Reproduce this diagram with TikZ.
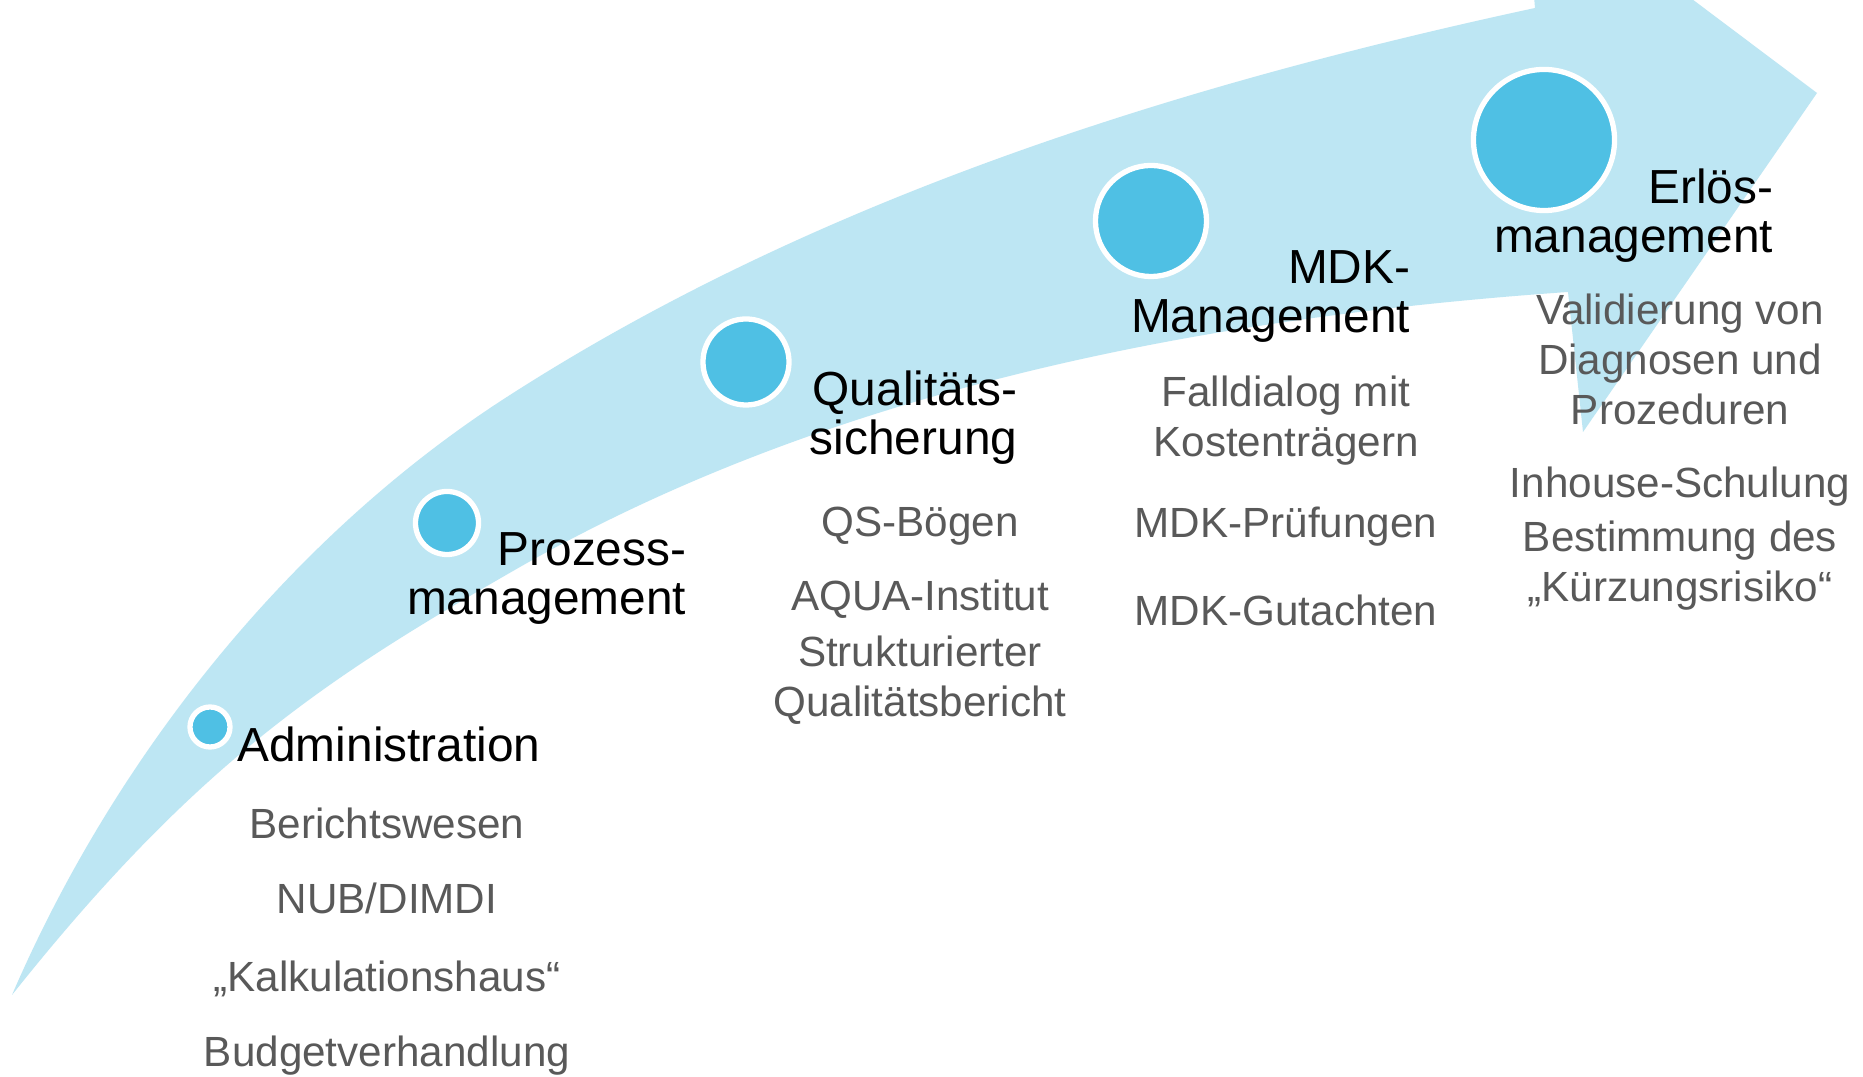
\documentclass[tikz,border=0pt]{standalone}
\usepackage{fontspec}
\setmainfont{Liberation Sans}
\usetikzlibrary{positioning}
\definecolor{bandblue}{RGB}{189,230,243}
\definecolor{dotblue}{RGB}{79,192,228}
\definecolor{itemgray}{RGB}{89,89,89}

\begin{document}
\begin{tikzpicture}[x=0.01cm,y=-0.01cm,
  dot/.style={circle,fill=dotblue,draw=white,line width=1.5pt,inner sep=0pt,outer sep=0pt},
  head/.style={inner sep=0pt,align=right,font=\fontsize{13.6}{14.2}\selectfont},
  item/.style={inner sep=0pt,align=center,text=itemgray,font=\fontsize{12}{14.3}\selectfont}]
\clip (0,0) rectangle (1863,1077);
\fill[white] (0,0) rectangle (1863,1077);
%arrow
\fill[bandblue] (12,995) .. controls (115,756) and (291,535) .. (510,395)
  .. controls (817,198) and (1178,85) .. (1535,8)
  -- (1531,-40) -- (1640,-40) -- (1817,93) -- (1583,432) -- (1568,292)
  .. controls (1208,317) and (834,388) .. (520,567)
  .. controls (328,677) and (198,761) .. (12,995) -- cycle;
%dots
\node[dot,minimum size=0.40cm] (adm) at (210,727) {};
\node[dot,minimum size=0.63cm] (proz) at (447,523) {};
\node[dot,minimum size=0.86cm] (qual) at (746,362) {};
\node[dot,minimum size=1.11cm] (mdk) at (1151,221) {};
\node[dot,minimum size=1.41cm] (erl) at (1544,140) {};
%headings (base = last line)
\node[head,anchor=base] (admhead) at (389,762) {Administration};
\node[head,anchor=base east] (prozhead) at (687,615) {Prozess-\\management};
\node[head,anchor=base east] (qualhead) at (1018,455) {Qualitäts-\\sicherung};
\node[head,anchor=base east] (mdkhead) at (1411,333) {MDK-\\Management};
\node[head,anchor=base east] (erlhead) at (1774,253) {Erlös-\\management};
%items
\node[item,anchor=base] (adm1) at (387,839) {Berichtswesen};
\node[item,anchor=base] (adm2) at (387,914) {NUB/DIMDI};
\node[item,anchor=base] (adm3) at (387,992) {„Kalkulationshaus“};
\node[item,anchor=base] (adm4) at (387,1067) {Budgetverhandlung};
\node[item,anchor=base] (qual1) at (920,537) {QS-Bögen};
\node[item,anchor=base] (qual2) at (920,611) {AQUA-Institut};
\node[item,anchor=base] (qual3) at (920,717) {Strukturierter\\Qualitätsbericht};
\node[item,anchor=base] (mdk1) at (1286,457) {Falldialog mit\\Kostenträgern};
\node[item,anchor=base] (mdk2) at (1286,538) {MDK-Prüfungen};
\node[item,anchor=base] (mdk3) at (1286,626) {MDK-Gutachten};
\node[item,anchor=base] (erl1) at (1680,425) {Validierung von\\Diagnosen und\\Prozeduren};
\node[item,anchor=base] (erl2) at (1680,498) {Inhouse-Schulung};
\node[item,anchor=base] (erl3) at (1680,602) {Bestimmung des\\„Kürzungsrisiko“};
\end{tikzpicture}
\end{document}
